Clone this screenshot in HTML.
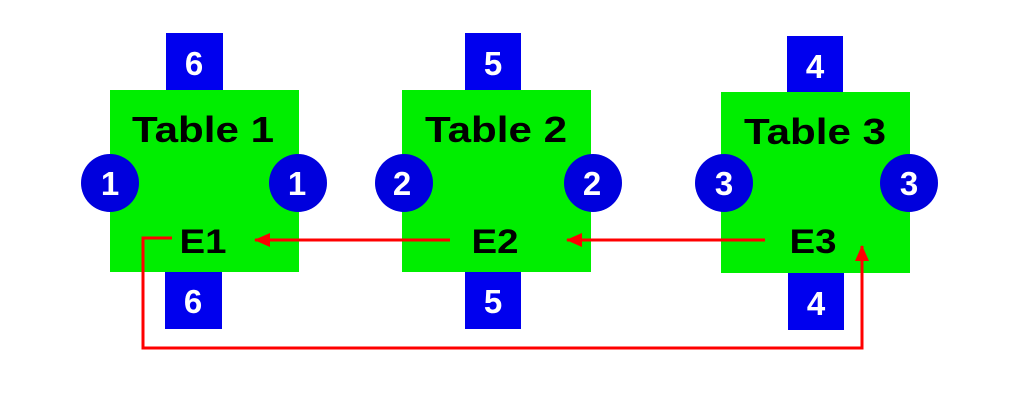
<!DOCTYPE html>
<html><head><meta charset="utf-8"><style>
html,body{margin:0;padding:0;background:#fff;}
svg text{font-family:"Liberation Sans","DejaVu Sans",sans-serif;font-weight:bold;}
</style></head><body>
<svg width="1024" height="400" viewBox="0 0 1024 400" xmlns="http://www.w3.org/2000/svg">
<defs>
<marker id="ah" markerWidth="16" markerHeight="14" refX="15" refY="7" orient="auto" markerUnits="userSpaceOnUse" viewBox="0 0 16 14">
<path d="M0,0 L16,7 L0,14 z" fill="#f00"/>
</marker>
</defs>
<rect x="166" y="33" width="57" height="58" fill="#0000ee"/>
<rect x="165" y="271" width="57" height="58" fill="#0000ee"/>
<rect x="110" y="90" width="189" height="182" fill="#00ee00"/>
<circle cx="110" cy="183" r="29" fill="#0000dd"/>
<circle cx="298" cy="183" r="29" fill="#0000dd"/>
<rect x="465" y="33" width="56" height="58" fill="#0000ee"/>
<rect x="465" y="271" width="56" height="58" fill="#0000ee"/>
<rect x="402" y="90" width="189" height="182" fill="#00ee00"/>
<circle cx="404" cy="183" r="29" fill="#0000dd"/>
<circle cx="593" cy="183" r="29" fill="#0000dd"/>
<rect x="787" y="36" width="56" height="57" fill="#0000ee"/>
<rect x="788" y="273" width="56" height="57" fill="#0000ee"/>
<rect x="721" y="92" width="189" height="181" fill="#00ee00"/>
<circle cx="724" cy="183" r="29" fill="#0000dd"/>
<circle cx="909" cy="183" r="29" fill="#0000dd"/>
<g fill="#fff" font-size="33" text-anchor="middle">
<text x="194" y="75">6</text><text x="193" y="313">6</text>
<text x="110" y="195">1</text><text x="297" y="195">1</text>
<text x="493" y="75">5</text><text x="493" y="313">5</text>
<text x="402" y="195">2</text><text x="592" y="195">2</text>
<text x="815" y="78">4</text><text x="816" y="315">4</text>
<text x="724" y="195">3</text><text x="909" y="195">3</text>
</g>
<g fill="#000" font-size="36" text-anchor="middle">
<text x="203" y="142" textLength="142" lengthAdjust="spacingAndGlyphs">Table 1</text>
<text x="496" y="142" textLength="142" lengthAdjust="spacingAndGlyphs">Table 2</text>
<text x="815" y="144" textLength="142" lengthAdjust="spacingAndGlyphs">Table 3</text>
</g>
<g fill="#000" font-size="34" text-anchor="middle">
<text x="203" y="253" textLength="47" lengthAdjust="spacingAndGlyphs">E1</text>
<text x="495" y="253" textLength="47" lengthAdjust="spacingAndGlyphs">E2</text>
<text x="813" y="253" textLength="47" lengthAdjust="spacingAndGlyphs">E3</text>
</g>
<g stroke="#f00" stroke-width="3" fill="none">
<line x1="450" y1="240" x2="255" y2="240" marker-end="url(#ah)"/>
<line x1="765" y1="240" x2="567" y2="240" marker-end="url(#ah)"/>
<polyline points="172,238 143,238 143,348 862,348 862,246" marker-end="url(#ah)"/>
</g>
</svg>
</body></html>
